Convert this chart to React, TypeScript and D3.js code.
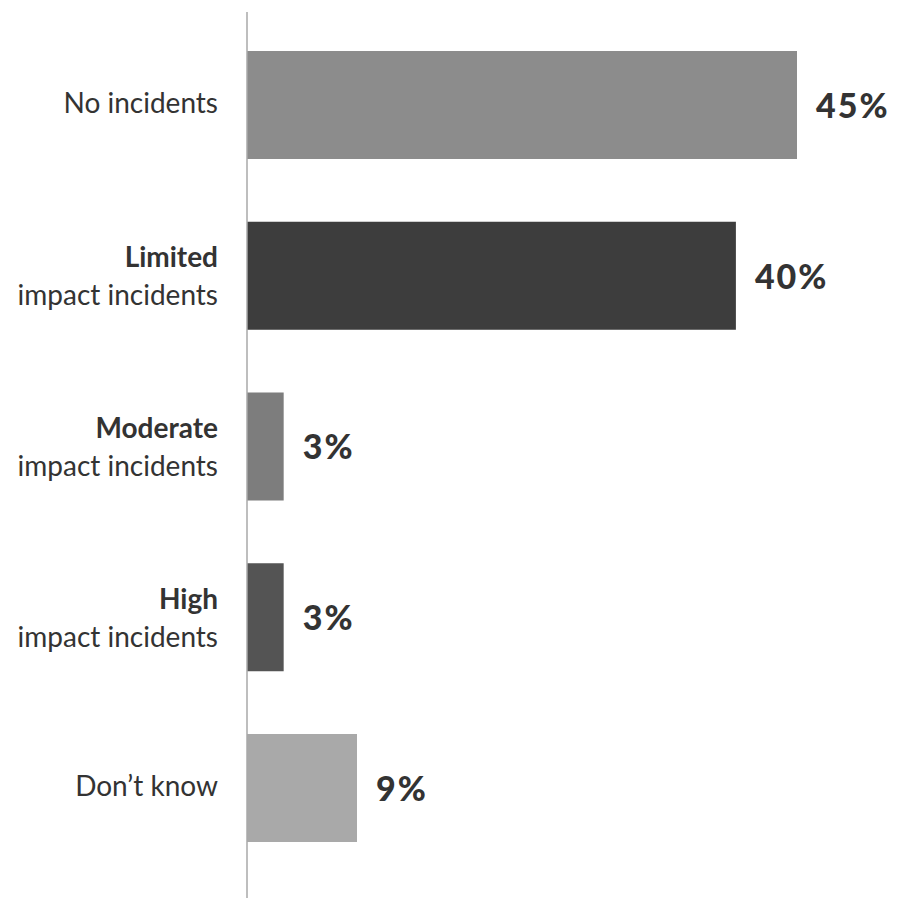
import React from "react";
import * as d3 from "d3";

const categoriesBold = ["", "Limited", "Moderate", "High", ""];
const categoriesRegular = ["No incidents", "impact incidents", "impact incidents", "impact incidents", "Don’t know"];
const values = [45, 40, 3, 3, 9];
const valueLabels = ["45%", "40%", "3%", "3%", "9%"];
const barColors = ["#8c8c8c", "#3d3d3d", "#7d7d7d", "#545454", "#a9a9a9"];

const W = 899;
const H = 899;
const axisX = 247;

export default function App() {
  const idx = values.map((_, i) => String(i));
  const yb = d3.scaleBand<string>().domain(idx).range([51, 842]).paddingInner(0.3675).paddingOuter(0);
  const x = d3.scaleLinear().domain([0, 45]).range([axisX, 797]);
  const textColor = "#333333";
  const labelX = 218;

  return (
    <svg width={W} height={H} style={{ position: "absolute", left: 0, top: 0, background: "#fff" }}>
      {values.map((v, i) => {
        const top = yb(String(i))!;
        const bh = yb.bandwidth();
        const cy = top + bh / 2;
        const bold = categoriesBold[i];
        const reg = categoriesRegular[i];
        return (
          <g key={i}>
            <rect x={x(0)} y={top} width={x(v) - x(0)} height={bh} fill={barColors[i]} />
            <text
              x={x(v) + 19}
              y={cy}
              dy="0.38em"
              fontFamily="Lato, sans-serif"
              fontWeight={900}
              fontSize={34}
              letterSpacing={2}
              fill={textColor}
            >
              {valueLabels[i]}
            </text>
            {bold ? (
              <text fontFamily="Lato, sans-serif" fontSize={28} fill={textColor} textAnchor="end">
                <tspan x={labelX} y={cy - 8.5} fontWeight={700}>{bold}</tspan>
                <tspan x={labelX} y={cy + 29.5}>{reg}</tspan>
              </text>
            ) : (
              <text x={labelX} y={cy} dy="0.3em" fontFamily="Lato, sans-serif" fontSize={28} fill={textColor} textAnchor="end">
                {reg}
              </text>
            )}
          </g>
        );
      })}
      <line x1={axisX} x2={axisX} y1={12} y2={898} stroke="#a8a8a8" strokeWidth={1.5} />
    </svg>
  );
}
